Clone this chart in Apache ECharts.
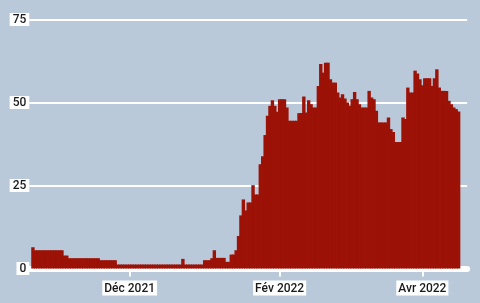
<!DOCTYPE html>
<html>
<head>
<meta charset="utf-8">
<script src="https://cdn.jsdelivr.net/npm/echarts@6/dist/echarts.min.js"></script>
<style>
html,body{margin:0;padding:0;background:#bac9da;}
#c{width:480px;height:303px;}
</style>
</head>
<body>
<div id="c"></div>
<script>
// First day of the series and the daily values
const startDate = '2021-10-22';
const values = [
 6.4,
 5.5,5.5,5.5,5.5,5.5,5.5,5.5,5.5,5.5,5.5,5.5,5.5,
 3.9,3.9,
 3.1,3.1,3.1,3.1,3.1,3.1,3.1,3.1,3.1,3.1,3.1,3.1,3.1,
 2.5,2.5,2.5,2.5,2.5,2.5,2.5,
 1.2,1.2,1.2,1.2,1.2,1.2,1.2,1.2,1.2,1.2,1.2,1.2,1.2,1.2,1.2,1.2,1.2,1.2,1.2,1.2,1.2,1.2,1.2,1.2,1.2,1.2,1.2,
 2.9,
 1.2,1.2,1.2,1.2,1.2,1.2,1.2,1.2,
 2.5,2.5,2.5,
 3.1,
 5.5,
 3.2,3.2,3.2,3.2,
 2.0,2.0,
 4.2,4.2,
 5.5,
 9.8,16,20.8,17.5,19.9,19.9,25.1,22.3,22.3,31.4,33.8,40.2,46,49,50.7,49,47.2,
 51,51,51,
 48.5,
 44.5,44.5,44.5,44.5,
 46.8,46.8,
 51.8,47,50.7,49.5,
 48.5,48.5,
 55,61.6,59,
 62,62,
 57,
 56,56,
 53,51.5,52.5,51.2,50,49,51,53.2,51,49.5,
 48.5,48.5,48.5,
 53.5,51.5,51,47.5,
 44,44,44,44,
 45.5,42,41.1,
 38.1,38.1,38.1,
 45.5,45,54.5,
 53,53,
 59.6,58.7,57,55.2,
 57.3,57.3,57.3,
 55,57.3,60,54.5,
 53.5,53.5,53.5,
 50.5,49.5,48.5,48,47.3
];
// Axis tick labels
const tickDates = ['2021-12-01','2022-02-01','2022-04-01'];
const tickLabels = ['Déc 2021','Fév 2022','Avr 2022'];
const yTicks = [0,25,50,75];

// empty days around the data so the gridlines run past the bars
const padBefore = 1, padAfter = 3;
function fmt(d){return d.toISOString().slice(0,10);}
const categories = [];
const t0 = new Date(startDate + 'T00:00:00Z');
for (let i = -padBefore; i < values.length + padAfter; i++) {
  const d = new Date(t0.getTime() + i*86400000);
  categories.push(fmt(d));
}
const seriesData = [];
for (let i = 0; i < padBefore; i++) seriesData.push(null);
values.forEach(v => seriesData.push(v));
for (let i = 0; i < padAfter; i++) seriesData.push(null);

const FONT = "Roboto, sans-serif";
const showTick = (idx, val) => tickDates.indexOf(val) >= 0;
const RED = '#9c1207';

const chart = echarts.init(document.getElementById('c'), null, {renderer:'canvas'});
chart.setOption({
  animation:false,
  backgroundColor:'#bac9da',
  grid:{left:29.3, right:12.9, top:19.5, bottom:34.5},
  xAxis:{
    type:'category',
    data:categories,
    offset:3,
    axisLine:{show:true, lineStyle:{color:'#ffffff', width:6}},
    axisTick:{show:true, alignWithLabel:true, interval:showTick, length:8, lineStyle:{color:'#ffffff', width:2}},
    axisLabel:{
      interval:showTick,
      formatter:(v)=>{const k=tickDates.indexOf(v);return k>=0?tickLabels[k]:'';},
      color:'#1a1a1a', fontFamily:FONT, fontWeight:500, fontSize:12,
      backgroundColor:'#ffffff', padding:[2,2,1,2], margin:9
    },
    splitLine:{show:false}
  },
  yAxis:{
    type:'value', min:yTicks[0], max:yTicks[yTicks.length-1], interval:25,
    axisLine:{show:false}, axisTick:{show:false},
    axisLabel:{color:'#1a1a1a', fontFamily:FONT, fontWeight:500, fontSize:12, backgroundColor:'#ffffff', padding:[1,3,0,3], margin:0},
    splitLine:{show:true, lineStyle:{color:'#ffffff', width:2}}
  },
  series:[{
    type:'bar',
    data:seriesData,
    barWidth:3.4,
    barGap:'0%',
    large:false,
    itemStyle:{color:RED}
  }]
});
</script>
</body>
</html>
